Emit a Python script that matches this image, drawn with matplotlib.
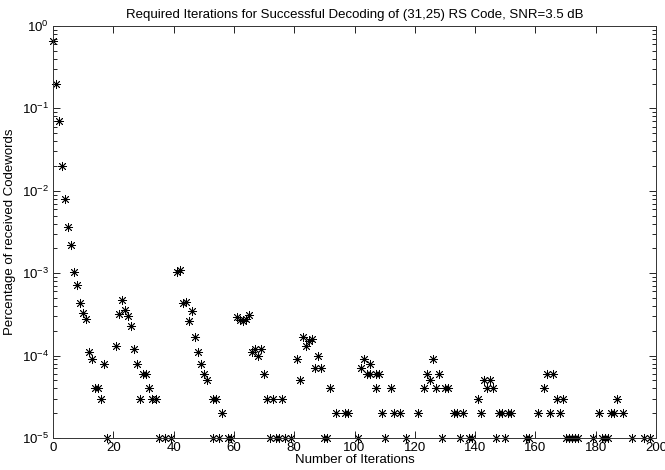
import matplotlib
matplotlib.use("Agg")
import matplotlib.pyplot as plt
from matplotlib.ticker import LogLocator, FixedLocator, NullFormatter

plt.rcParams['font.family'] = ['Liberation Sans', 'DejaVu Sans']

iterations = [0, 1, 2, 3, 4, 5, 6, 7, 8, 9, 10, 11, 12, 13, 14, 15, 16, 17, 18,
              21, 22, 23, 24, 25, 26, 27, 28, 29, 30, 31, 32, 33, 34, 35, 37, 39,
              41, 42, 43, 44, 45, 46, 47, 48, 49, 50, 51, 53, 53, 54, 55, 56, 58, 59,
              61, 62, 63, 64, 65, 66, 67, 68, 69, 70, 71, 72, 73, 74, 75, 76, 77, 79,
              81, 82, 83, 84, 85, 86, 87, 88, 89, 90, 91, 92, 94, 97, 98,
              101, 102, 103, 104, 105, 105, 107, 107, 108, 109, 110, 112, 113, 115, 117,
              121, 123, 124, 125, 126, 127, 128, 129, 130, 131, 133, 134, 135, 136, 138, 139,
              141, 142, 143, 144, 145, 146, 147, 148, 149, 150, 151, 152, 157, 158,
              161, 163, 164, 165, 166, 167, 168, 169, 170, 171, 172, 173, 174, 179,
              181, 182, 183, 184, 185, 186, 187, 189, 192, 196, 198]

percentages = [0.66, 0.196, 0.0697, 0.0202, 0.0079, 0.0036, 0.0022, 0.00103, 7.1e-4, 4.3e-4,
               3.3e-4, 2.75e-4, 1.1e-4, 9e-5, 4e-5, 4e-5, 3e-5, 8e-5, 1e-5,
               1.3e-4, 3.2e-4, 4.7e-4, 3.6e-4, 3.0e-4, 2.3e-4, 1.2e-4, 8e-5, 3e-5, 6e-5, 6e-5,
               4e-5, 3e-5, 3e-5, 1e-5, 1e-5, 1e-5,
               1.02e-3, 1.1e-3, 4.3e-4, 4.5e-4, 2.6e-4, 3.5e-4, 1.7e-4, 1.1e-4, 8e-5, 6e-5, 5e-5,
               3e-5, 1e-5, 3e-5, 1e-5, 2e-5, 1e-5, 1e-5,
               2.95e-4, 2.7e-4, 2.6e-4, 2.75e-4, 3.1e-4, 1.1e-4, 1.2e-4, 1.0e-4, 1.2e-4, 6e-5,
               3e-5, 1e-5, 3e-5, 1e-5, 1e-5, 3e-5, 1e-5, 1e-5,
               9e-5, 5e-5, 1.7e-4, 1.3e-4, 1.5e-4, 1.6e-4, 7e-5, 1.0e-4, 7e-5, 1e-5, 1e-5, 4e-5,
               2e-5, 2e-5, 2e-5,
               1e-5, 7e-5, 9e-5, 6e-5, 8e-5, 6e-5, 6e-5, 4e-5, 6e-5, 2e-5, 1e-5, 4e-5, 2e-5, 2e-5, 1e-5,
               2e-5, 4e-5, 6e-5, 5e-5, 9e-5, 4e-5, 6e-5, 1e-5, 4e-5, 4e-5, 2e-5, 2e-5, 1e-5, 2e-5, 1e-5, 1e-5,
               3e-5, 2e-5, 5e-5, 4e-5, 5e-5, 4e-5, 1e-5, 2e-5, 2e-5, 1e-5, 2e-5, 2e-5, 1e-5, 1e-5,
               2e-5, 4e-5, 6e-5, 2e-5, 6e-5, 3e-5, 2e-5, 3e-5, 1e-5, 1e-5, 1e-5, 1e-5, 1e-5, 1e-5,
               2e-5, 1e-5, 1e-5, 1e-5, 2e-5, 2e-5, 3e-5, 2e-5, 1e-5, 1e-5, 1e-5]

x_ticks = [0, 20, 40, 60, 80, 100, 120, 140, 160, 180, 200]
title = "Required Iterations for Successful Decoding of (31,25) RS Code, SNR=3.5 dB"

fig = plt.figure(figsize=(6.65, 4.70), dpi=100)
ax = fig.add_axes([53 / 665, 1 - 438 / 470, (656 - 53) / 665, (438 - 26) / 470])

ax.plot(iterations, percentages, linestyle='none', marker=(8, 2, 0), markersize=6.5,
        markeredgewidth=0.6, color='black', clip_on=False)

ax.set_yscale('log')
ax.set_xlim(0, 200)
ax.set_ylim(1e-5, 1)
ax.xaxis.set_major_locator(FixedLocator(x_ticks))
ax.yaxis.set_major_locator(LogLocator(base=10, numticks=10))
ax.yaxis.set_minor_locator(LogLocator(base=10, subs=range(2, 10), numticks=20))
ax.yaxis.set_minor_formatter(NullFormatter())

ax.tick_params(which='both', direction='in', top=True, right=True, labelsize=9.5, pad=3)
ax.tick_params(which='major', length=5, width=0.6)
ax.tick_params(which='minor', length=3, width=0.6)
for s in ax.spines.values():
    s.set_linewidth(0.7)
    s.set_color('#333333')

ax.set_title(title, fontsize=9.5, pad=6)
ax.set_xlabel("Number of Iterations", fontsize=9.5, labelpad=0)
ax.set_ylabel("Percentage of received Codewords", fontsize=9.5, labelpad=4)

fig.savefig("out.png", dpi=100)
